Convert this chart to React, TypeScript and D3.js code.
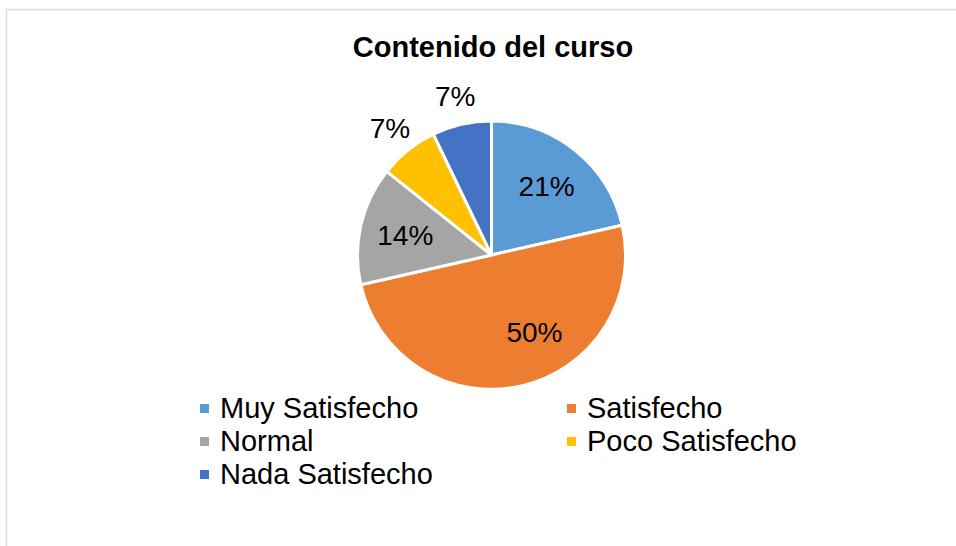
import React from "react";
import * as d3 from "d3";

const categories = ["Muy Satisfecho", "Satisfecho", "Normal", "Poco Satisfecho", "Nada Satisfecho"];
const values = [3, 7, 2, 1, 1];
const colors = ["#5B9BD5", "#ED7D31", "#A5A5A5", "#FFC000", "#4472C4"];
const title = "Contenido del curso";
// which labels sit outside the pie
const outsideLabel = [false, false, false, true, true];

const W = 956;
const H = 546;
const FONT = "'Liberation Sans', Arial, sans-serif";

export default function App() {
  const cx = 491.5;
  const cy = 255;
  const R = 134;
  const total = d3.sum(values);
  const pie = d3.pie<number>().value((d) => d).sort(null);
  const arcs = pie(values);
  const arc = d3.arc<d3.PieArcDatum<number>>().innerRadius(0).outerRadius(R);
  const fmt = (v: number) => `${Math.round((v / total) * 100)}%`;

  const legendCols = [200, 567];
  const legendRow0 = 418;
  const legendRowH = 33;

  return (
    <svg
      width={W}
      height={H}
      style={{ position: "absolute", left: 0, top: 0, display: "block" }}
    >
      <rect x={0} y={0} width={W} height={H} fill="#fff" />
      <rect x={6.5} y={9.5} width={W + 20} height={H + 20} fill="none" stroke="#D9D9D9" strokeWidth={1.5} />
      <text
        x={493}
        y={56.5}
        textAnchor="middle"
        fontFamily={FONT}
        fontWeight="bold"
        fontSize={29}
        fill="#000"
      >
        {title}
      </text>
      <g transform={`translate(${cx},${cy})`}>
        {arcs.map((a, i) => (
          <path key={categories[i]} d={arc(a) || ""} fill={colors[i]} stroke="#fff" strokeWidth={3} strokeLinejoin="round" />
        ))}
        {arcs.map((a, i) => {
          const span = a.endAngle - a.startAngle;
          // large slices: Excel's best fit pulls the label toward the slice start
          const mid = (a.startAngle + a.endAngle) / 2 - (span > Math.PI * 0.75 ? span * 0.09 : 0);
          const r = outsideLabel[i] ? R + 29 : R * 0.66;
          const x = Math.sin(mid) * r;
          const y = -Math.cos(mid) * r;
          return (
            <text
              key={"l" + i}
              x={x}
              y={y}
              dy="0.36em"
              textAnchor="middle"
              fontFamily={FONT}
              fontSize={28}
              fill="#000"
            >
              {fmt(values[i])}
            </text>
          );
        })}
      </g>
      <g>
        {categories.map((c, i) => {
          const col = i % 2;
          const row = Math.floor(i / 2);
          const x = legendCols[col];
          const y = legendRow0 + row * legendRowH;
          return (
            <g key={c}>
              <rect x={x} y={y - 14} width={9} height={9} fill={colors[i]} />
              <text x={x + 20} y={y} fontFamily={FONT} fontSize={29} fill="#000">
                {c}
              </text>
            </g>
          );
        })}
      </g>
    </svg>
  );
}
